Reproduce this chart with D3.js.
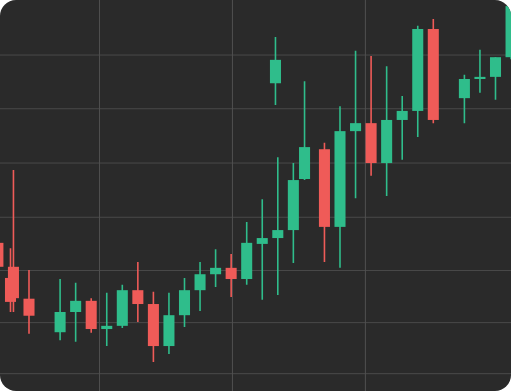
<!DOCTYPE html>
<html>
<head>
<meta charset="utf-8">
<script src="https://cdn.jsdelivr.net/npm/d3@7"></script>
<style>
  html, body { margin: 0; padding: 0; background: #ffffff; }
  svg { display: block; }
</style>
</head>
<body>
<svg id="chart" width="511" height="391"></svg>
<script>
// Candle slot positions (time index, fractional where candles were offset)
const slots  = [0, 0.81, 1, 2, 4, 5, 6, 7, 8, 9, 10, 11, 12, 13, 14, 15, 16, 17, 17.85, 18, 19, 19.72, 21, 22, 23, 24, 25, 26, 27, 28, 30, 31, 32, 33];
const opens  = [104.5, 97.9, 100.0, 94.0, 87.7, 91.5, 93.6, 88.3, 88.9, 95.6, 93.0, 85.1, 90.9, 95.6, 98.6, 99.8, 97.7, 104.3, 134.5, 105.4, 106.9, 116.5, 122.1, 107.5, 125.5, 127.0, 119.5, 127.6, 129.3, 144.7, 131.7, 135.3, 135.7, 139.4];
const highs  = [105.8, 103.5, 118.2, 99.4, 97.7, 97.0, 94.1, 95.1, 96.6, 100.9, 95.3, 95.1, 97.9, 100.9, 103.3, 102.4, 108.4, 112.7, 143.2, 120.6, 119.5, 134.9, 123.3, 130.2, 140.6, 139.6, 137.7, 132.1, 145.3, 146.6, 136.1, 140.8, 139.4, 150.0];
const lows   = [98.5, 91.5, 91.5, 87.4, 86.2, 85.9, 87.6, 85.1, 88.5, 89.6, 82.1, 83.6, 88.7, 91.7, 96.2, 94.3, 96.6, 93.8, 130.4, 94.7, 100.7, 116.3, 100.9, 99.8, 112.9, 117.1, 113.3, 120.1, 124.4, 127.0, 127.0, 132.7, 131.4, 139.0];
const closes = [100.0, 93.4, 94.1, 90.8, 91.5, 93.6, 88.3, 88.9, 95.6, 93.0, 85.1, 90.9, 95.6, 98.6, 99.8, 97.7, 104.5, 105.4, 138.9, 106.9, 116.3, 122.5, 107.5, 125.5, 127.0, 119.5, 127.6, 129.3, 144.7, 127.6, 135.3, 135.7, 139.4, 149.0];

// Grid lines (price levels and time positions)
const priceGrid = [139.9, 129.8, 119.6, 109.4, 99.4, 89.6, 80.0];
const timeGrid  = [6.5, 15.05, 23.6];

const W = 511, H = 391;
const UP = "#2fbd8b", DOWN = "#ef5b58", BG = "#2a2a2a";

const svg = d3.select("#chart");

const x = d3.scaleLinear().domain([0, 33]).range([-2.1, 511.05]);
const y = d3.scaleLinear().domain([76.65, 150.15]).range([H, 0]);
const step = x(1) - x(0);
const bodyW = step * 0.71;

const defs = svg.append("defs");
defs.append("clipPath").attr("id", "card")
  .append("rect").attr("x", 0).attr("y", 0).attr("width", W).attr("height", H).attr("rx", 16).attr("ry", 16);

const g = svg.append("g").attr("clip-path", "url(#card)");
g.append("rect").attr("width", W).attr("height", H).attr("fill", BG);

// horizontal grid via axis
const yAxis = d3.axisRight(y).tickValues(priceGrid).tickSize(W).tickFormat("");
g.append("g").call(yAxis)
  .call(s => s.select(".domain").remove())
  .call(s => s.selectAll(".tick line").attr("stroke", "#4a4a4a").attr("stroke-width", 1));

// vertical grid via axis
const xAxis = d3.axisBottom(x).tickValues(timeGrid).tickSize(H).tickFormat("");
g.append("g").call(xAxis)
  .call(s => s.select(".domain").remove())
  .call(s => s.selectAll(".tick line").attr("stroke", "#505050").attr("stroke-width", 1));

const data = slots.map((s, i) => ({ s, o: opens[i], h: highs[i], l: lows[i], c: closes[i] }));

const candles = g.append("g").selectAll("g").data(data).join("g")
  .attr("fill", d => d.c >= d.o ? UP : DOWN)
  .attr("stroke", d => d.c >= d.o ? UP : DOWN);

candles.append("line")
  .attr("x1", d => x(d.s)).attr("x2", d => x(d.s))
  .attr("y1", d => y(d.h)).attr("y2", d => y(d.l))
  .attr("stroke-width", 1.6);

candles.append("rect")
  .attr("x", d => x(d.s) - bodyW / 2)
  .attr("width", bodyW)
  .attr("y", d => y(Math.max(d.o, d.c)))
  .attr("height", d => Math.max(1.5, Math.abs(y(d.o) - y(d.c))))
  .attr("stroke", "none");
</script>
</body>
</html>
